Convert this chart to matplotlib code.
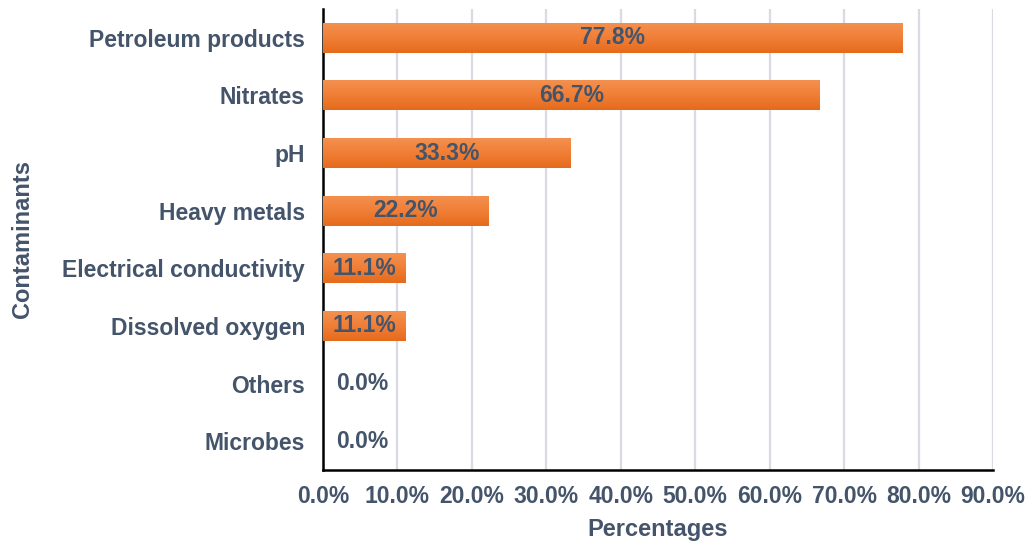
import matplotlib
matplotlib.use("Agg")
import matplotlib.pyplot as plt
import numpy as np
from matplotlib.colors import LinearSegmentedColormap

categories = ["Petroleum products", "Nitrates", "pH", "Heavy metals",
              "Electrical conductivity", "Dissolved oxygen", "Others", "Microbes"]
values = [77.8, 66.7, 33.3, 22.2, 11.1, 11.1, 0.0, 0.0]
xticks = [0, 10, 20, 30, 40, 50, 60, 70, 80, 90]

text_color = "#44546A"
plt.rcParams["font.family"] = ["Liberation Sans", "DejaVu Sans"]
plt.rcParams["font.weight"] = "bold"

fig = plt.figure(figsize=(10.30, 5.47), dpi=100)
ax = fig.add_axes([323 / 1030, 1 - 470 / 547, (993 - 323) / 1030, (470 - 9) / 547])

n = len(categories)
ypos = np.arange(n)[::-1]
bar_h = 0.52

# vertical gradient used to fill each bar: lighter at the top edge
grad = np.linspace(0, 1, 64).reshape(-1, 1)
cmap = LinearSegmentedColormap.from_list("orange", ["#E56B1C", "#F07E36", "#F4904F"])

bars = ax.barh(ypos, values, height=bar_h, color="#EE7B30", zorder=2)
for b in bars:
    w = b.get_width()
    if w <= 0:
        continue
    x0, y0 = b.get_x(), b.get_y()
    im = ax.imshow(grad, cmap=cmap, aspect="auto",
                   extent=[x0, x0 + w, y0 + b.get_height(), y0],
                   origin="upper", zorder=3, interpolation="bilinear")
    im.set_clip_path(b)

for y, v in zip(ypos, values):
    ax.text(max(v / 2, 5.3), y, f"{v:.1f}%", ha="center", va="center",
            fontsize=16.5, fontweight="bold", color=text_color, zorder=4)

ax.set_xlim(0, 90)
ax.set_ylim(-0.5, n - 0.5)
ax.set_xticks(xticks)
ax.set_xticklabels([f"{t:.1f}%" for t in xticks])
ax.set_yticks(ypos)
ax.set_yticklabels(categories)
ax.tick_params(length=0, labelsize=16.5, colors=text_color)
ax.tick_params(axis="y", pad=13)
ax.tick_params(axis="x", pad=11)
for lbl in ax.get_xticklabels() + ax.get_yticklabels():
    lbl.set_fontweight("bold")

ax.grid(axis="x", color="#D9DAE3", linewidth=1.6, zorder=0)
ax.set_axisbelow(True)
for s in ["top", "right"]:
    ax.spines[s].set_visible(False)
for s in ["left", "bottom"]:
    ax.spines[s].set_color("black")
    ax.spines[s].set_linewidth(1.8)

ax.set_xlabel("Percentages", fontsize=17, fontweight="bold", color=text_color, labelpad=7)
ax.set_ylabel("Contaminants", fontsize=17, fontweight="bold", color=text_color, labelpad=20)

fig.savefig("out.png", dpi=100)
